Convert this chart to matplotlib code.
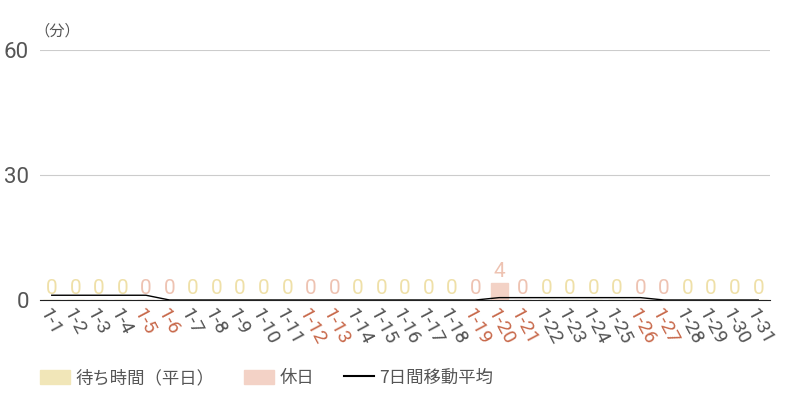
import matplotlib.pyplot as plt
import numpy as np
from matplotlib.patches import Patch
from matplotlib.lines import Line2D

plt.rcParams['font.family'] = ['Roboto', 'Noto Sans CJK JP', 'DejaVu Sans']

# data
days = ["1-%d" % d for d in range(1, 32)]
holidays = ["1-5", "1-6", "1-12", "1-13", "1-19", "1-20", "1-21", "1-26", "1-27"]
wait = [0] * 31
wait[19] = 4
ma7 = [1.14] * 5 + [0] * 14 + [0.57] * 7 + [0] * 5

col_weekday = "#F1E6B8"
col_holiday = "#F3D2C6"
col_lbl_weekday = "#EFE0A8"
col_lbl_holiday = "#EEC3B2"
col_text = "#555555"
col_red = "#C8694B"

fig = plt.figure(figsize=(8, 4), dpi=100)
ax = fig.add_axes([0.05, 0.25, 0.9125, 0.625])

x = np.arange(len(days))
is_hol = [d in holidays for d in days]
bar_cols = [col_holiday if h else col_weekday for h in is_hol]

ax.bar(x, wait, width=0.72, color=bar_cols, edgecolor=bar_cols, linewidth=1, zorder=2)
for i, v in enumerate(wait):
    ax.text(x[i], v + 0.5, str(v), ha="center", va="bottom", fontsize=15,
            color=col_lbl_holiday if is_hol[i] else col_lbl_weekday, zorder=3)

ax.plot(x, ma7, color="black", linewidth=1.0, zorder=4)

ax.set_xlim(-0.5, len(days) - 0.5)
ax.set_ylim(0, 60)
ax.set_yticks([0, 30, 60])
ax.grid(axis="y", color="#cccccc", linewidth=0.8, zorder=0)
ax.set_axisbelow(True)
for s in ["top", "right", "left"]:
    ax.spines[s].set_visible(False)
ax.spines["bottom"].set_color("#222222")
ax.tick_params(axis="y", length=0, labelsize=16, colors=col_text, pad=8)
ax.tick_params(axis="x", length=0, pad=4)
ax.set_xticks(x)
ax.set_xticklabels(days, rotation=-62, ha="left", va="top", rotation_mode="anchor", fontsize=14)
for lbl, h in zip(ax.get_xticklabels(), is_hol):
    lbl.set_color(col_red if h else col_text)

fig.text(0.043, 0.9, "（分）", fontsize=11, color=col_text, ha="left", va="bottom",
         family=['Noto Sans CJK JP', 'DejaVu Sans'])

handles = [Patch(color=col_weekday), Patch(color=col_holiday),
           Line2D([0], [0], color="black", linewidth=1.5)]
names = ["待ち時間（平日）", "休日", "7日間移動平均"]
fig.legend(handles, names, loc="center left", bbox_to_anchor=(0.05, 0.055), ncol=3,
           frameon=False, handlelength=1.75, handleheight=0.9,
           columnspacing=1.7, handletextpad=0.3, labelcolor=col_text,
           borderpad=0, borderaxespad=0,
           prop={'family': ['Noto Sans CJK JP', 'DejaVu Sans'], 'size': 12.5})

fig.savefig("out.png", dpi=100)
